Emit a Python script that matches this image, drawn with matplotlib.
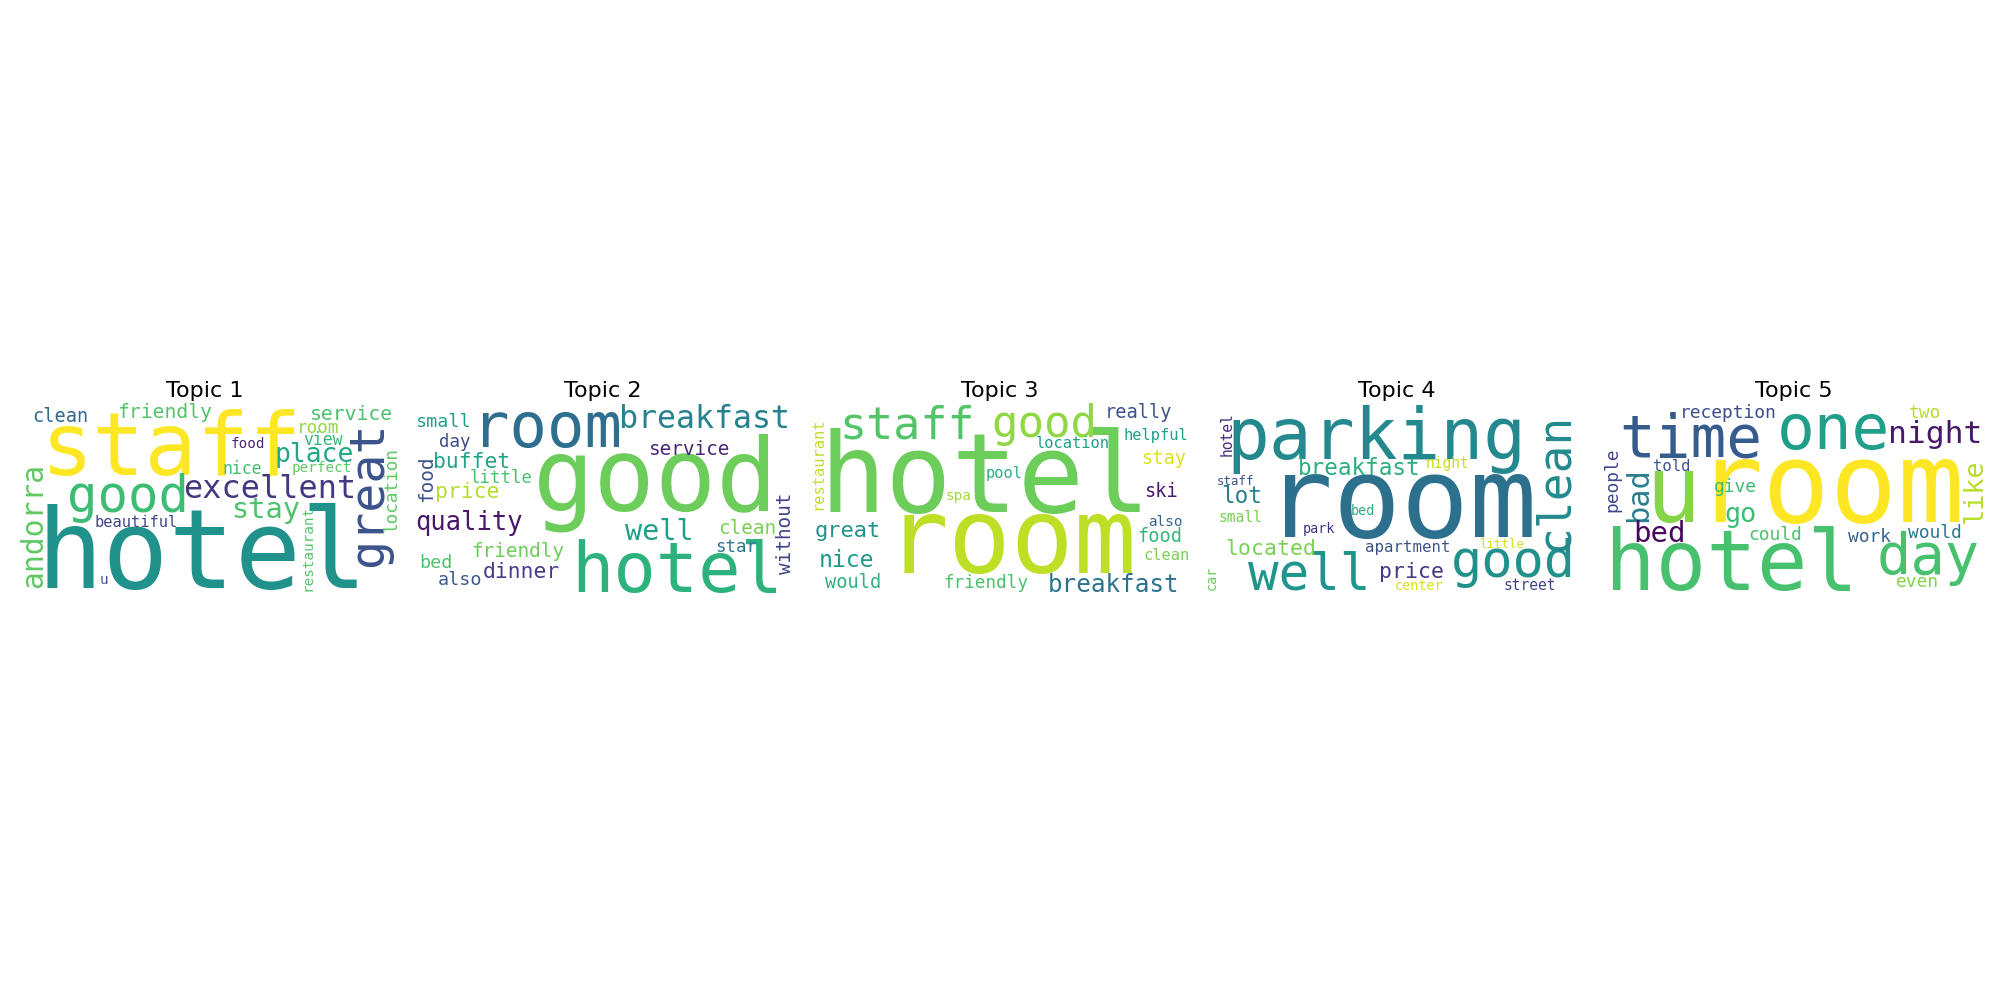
import matplotlib.pyplot as plt

# word clouds for 5 LDA topics (hotel reviews)
topic_titles = ['Topic 1', 'Topic 2', 'Topic 3', 'Topic 4', 'Topic 5']

# words and relative weights (1.0 = biggest word of the topic)
topic1_words = ['hotel', 'staff', 'good', 'great', 'excellent', 'andorra', 'stay', 'place',
                'friendly', 'service', 'clean', 'location', 'room', 'view', 'nice',
                'beautiful', 'restaurant', 'food', 'perfect', 'u']
topic1_weights = [1.0, 0.79, 0.46, 0.44, 0.29, 0.27, 0.26, 0.24, 0.18, 0.18, 0.17, 0.16,
                  0.16, 0.15, 0.15, 0.14, 0.13, 0.13, 0.13, 0.13]

topic2_words = ['good', 'hotel', 'room', 'breakfast', 'well', 'quality', 'buffet', 'price',
                'dinner', 'service', 'food', 'without', 'friendly', 'bed', 'small', 'also',
                'day', 'little', 'clean', 'star']
topic2_weights = [1.0, 0.69, 0.61, 0.31, 0.28, 0.25, 0.21, 0.21, 0.21, 0.19, 0.19, 0.19,
                  0.19, 0.18, 0.18, 0.18, 0.17, 0.17, 0.19, 0.17]

topic3_words = ['hotel', 'room', 'staff', 'good', 'breakfast', 'nice', 'great', 'really',
                'stay', 'ski', 'food', 'would', 'friendly', 'helpful', 'location',
                'restaurant', 'pool', 'clean', 'spa', 'also']
topic3_weights = [1.0, 0.95, 0.41, 0.40, 0.22, 0.21, 0.20, 0.17, 0.17, 0.17, 0.17, 0.17,
                  0.16, 0.14, 0.14, 0.14, 0.14, 0.14, 0.13, 0.13]

topic4_words = ['room', 'parking', 'good', 'well', 'clean', 'breakfast', 'lot', 'price',
                'located', 'apartment', 'hotel', 'night', 'small', 'street', 'center', 'bed',
                'park', 'car', 'staff', 'little']
topic4_weights = [1.0, 0.63, 0.46, 0.45, 0.41, 0.20, 0.20, 0.19, 0.19, 0.14, 0.13, 0.13,
                  0.13, 0.13, 0.12, 0.12, 0.12, 0.12, 0.11, 0.11]

topic5_words = ['room', 'u', 'hotel', 'one', 'time', 'day', 'night', 'bad', 'bed', 'go',
                'like', 'reception', '.', 'could', 'work', 'would', 'even', 'two', 'people',
                'give', 'told']
topic5_weights = [1.0, 0.82, 0.75, 0.56, 0.53, 0.51, 0.28, 0.27, 0.26, 0.24, 0.24, 0.16,
                  0.16, 0.16, 0.16, 0.16, 0.16, 0.16, 0.16, 0.16, 0.14]

# layout: (x, baseline y, rotation, colour) on a 390 x 195 px canvas
topic1_layout = [
    (191.7, 185.8, 0, '#21918c'), (161.7, 72.0, 0, '#fde725'), (118.3, 109.2, 0, '#3dbc74'),
    (371.7, 91.7, 90, '#3b528b'), (260.0, 95.8, 0, '#453781'), (31.7, 123.3, 90, '#5ec962'),
    (255.8, 116.0, 0, '#4ec36b'), (304.2, 59.2, 0, '#22a884'), (155.0, 15.8, 0, '#52c569'),
    (341.7, 17.5, 0, '#4ac16d'), (50.8, 19.2, 0, '#31688e'), (386.7, 86.7, 90, '#5ec962'),
    (308.3, 30.8, 0, '#95d840'), (313.3, 42.5, 0, '#35b779'), (232.5, 71.5, 0, '#44bf70'),
    (125.8, 124.2, 0, '#414487'), (301.7, 145.0, 90, '#52c569'), (238.3, 45.8, 0, '#482475'),
    (311.7, 69.2, 0, '#5ec962'), (94.2, 181.8, 0, '#3b528b'),
]
topic2_layout = [
    (248.3, 107.5, 0, '#6ccd5a'), (270.0, 189.2, 0, '#2db27d'), (139.2, 44.2, 0, '#2e6e8e'),
    (296.7, 25.8, 0, '#26828e'), (251.7, 137.5, 0, '#1fa188'), (61.7, 127.5, 0, '#481769'),
    (64.2, 65.8, 0, '#20a386'), (59.2, 95.8, 0, '#b5de2b'), (114.2, 175.8, 0, '#433e85'),
    (282.5, 52.5, 0, '#482878'), (25.0, 75.8, 90, '#3b528b'), (383.3, 130.8, 90, '#414487'),
    (110.0, 154.2, 0, '#6ccd5a'), (28.3, 165.8, 0, '#4ac16d'), (35.8, 24.2, 0, '#1f9e89'),
    (52.5, 182.5, 0, '#38598c'), (47.5, 44.2, 0, '#3e4a89'), (93.3, 80.8, 0, '#4ac16d'),
    (340.0, 132.0, 0, '#7ad151'), (328.3, 149.2, 0, '#2a788e'),
]
topic3_layout = [
    (180.0, 109.0, 0, '#6ccd5a'), (206.7, 171.0, 0, '#bddf26'), (102.5, 35.8, 0, '#52c569'),
    (239.0, 34.5, 0, '#8fd744'), (308.3, 189.2, 0, '#2c728e'), (41.7, 164.2, 0, '#1f9a8a'),
    (42.5, 134.2, 0, '#21918c'), (333.3, 15.8, 0, '#3b528b'), (358.3, 61.0, 0, '#dde318'),
    (355.8, 94.2, 0, '#481a6c'), (355.0, 139.2, 0, '#35b779'), (48.3, 185.8, 0, '#2db27d'),
    (180.8, 185.8, 0, '#4ac16d'), (350.8, 37.5, 0, '#1f9e89'), (267.5, 45.8, 0, '#1f9e89'),
    (17.0, 61.5, 90, '#c2df23'), (199.0, 75.8, 0, '#29af7f'), (361.7, 157.5, 0, '#7ad151'),
    (153.0, 97.5, 0, '#a0da39'), (360.0, 123.5, 0, '#33638d'),
]
topic4_layout = [
    (199.2, 134.2, 0, '#2d708e'), (174.2, 57.0, 0, '#23898e'), (311.7, 174.0, 0, '#21918c'),
    (107.5, 187.5, 0, '#1f968b'), (365.5, 78.5, 90, '#238a8d'), (157.5, 72.5, 0, '#29af7f'),
    (39.2, 100.8, 0, '#277f8e'), (209.2, 175.8, 0, '#443983'), (69.2, 152.5, 0, '#7ad151'),
    (205.8, 149.2, 0, '#3b528b'), (30.0, 31.7, 90, '#472d7b'), (245.8, 65.8, 0, '#c8e020'),
    (38.3, 119.2, 0, '#7ad151'), (327.5, 187.5, 0, '#414487'), (216.7, 187.5, 0, '#d8e219'),
    (160.8, 112.5, 0, '#29af7f'), (116.7, 131.0, 0, '#46337e'), (13.3, 175.0, 90, '#6ccd5a'),
    (33.3, 82.5, 0, '#3b528b'), (299.2, 145.8, 0, '#d0e11c'),
]
topic5_layout = [
    (231.0, 119.2, 0, '#fde725'), (74.3, 119.2, 0, '#86d549'), (132.7, 187.5, 0, '#48c16e'),
    (234.3, 46.5, 0, '#1f9e89'), (91.8, 54.2, 0, '#365c8d'), (329.3, 172.0, 0, '#48c16e'),
    (336.0, 40.8, 0, '#481a6c'), (47.7, 92.5, 90, '#287d8e'), (60.2, 139.2, 0, '#46085c'),
    (141.5, 119.2, 0, '#3dbc74'), (382.7, 88.3, 90, '#b8de29'), (129.3, 15.8, 0, '#3e4c8a'),
    (71.7, 13.0, 0, '#3e4c8a'), (176.0, 137.5, 0, '#4ac16d'), (270.2, 139.2, 0, '#33638d'),
    (336.0, 135.8, 0, '#2a788e'), (318.5, 184.2, 0, '#84d44b'), (326.0, 15.8, 0, '#b5de2b'),
    (18.3, 77.5, 90, '#3f4788'), (136.0, 89.2, 0, '#3dbc74'), (72.7, 68.5, 0, '#3b528b'),
]

topics = [
    (topic1_words, topic1_weights, topic1_layout),
    (topic2_words, topic2_weights, topic2_layout),
    (topic3_words, topic3_weights, topic3_layout),
    (topic4_words, topic4_weights, topic4_layout),
    (topic5_words, topic5_weights, topic5_layout),
]
max_font_px = [110, 102, 110, 113, 112]

fig = plt.figure(figsize=(20, 10), dpi=100)
fig.patch.set_facecolor('white')

canvas_w, canvas_h = 390, 195
centers = [205, 602.5, 1000, 1397, 1794]  # panel centres in px

for i, (words, weights, layout) in enumerate(topics):
    left = (centers[i] - canvas_w / 2) / 2000
    ax = fig.add_axes([left, (1000 - 402.5 - canvas_h) / 1000, canvas_w / 2000, canvas_h / 1000])
    ax.set_xlim(0, canvas_w)
    ax.set_ylim(canvas_h, 0)
    ax.axis('off')
    for word, w, (x, y, rot, col) in zip(words, weights, layout):
        size_pt = w * max_font_px[i] * 0.72
        ax.text(x, y, word, fontsize=size_pt, family='DejaVu Sans Mono', color=col,
                rotation=rot, rotation_mode='anchor', ha='center', va='baseline')
    ax.set_title(topic_titles[i], fontsize=16, pad=4)

plt.savefig('out.png', dpi=100, facecolor='white')
